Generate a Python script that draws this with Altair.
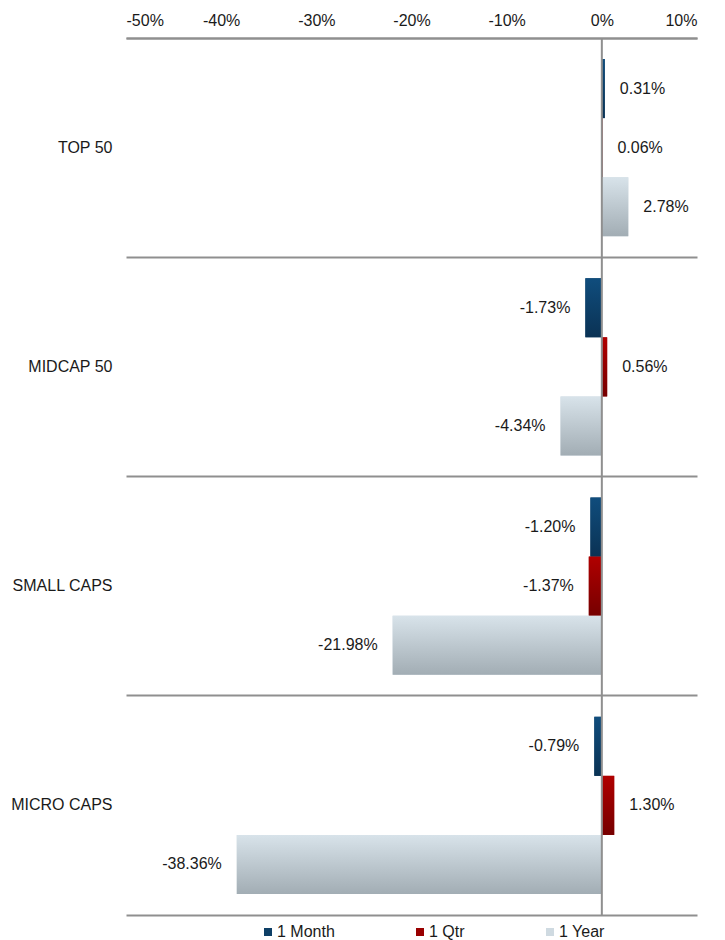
import altair as alt
import pandas as pd

categories = ["TOP 50", "MIDCAP 50", "SMALL CAPS", "MICRO CAPS"]
series = ["1 Month", "1 Qtr", "1 Year"]
month_vals = [0.31, -1.73, -1.20, -0.79]
qtr_vals = [0.06, 0.56, -1.37, 1.30]
year_vals = [2.78, -4.34, -21.98, -38.36]
x_ticks = [-50, -40, -30, -20, -10, 0, 10]

legend_colors = ["#0e3f66", "#990000", "#cfdae1"]
gradients = {
    "1 Month": [("#104d7d", 0), ("#0a3254", 1)],
    "1 Qtr": [("#b00000", 0), ("#760000", 1)],
    "1 Year": [("#d8e3ea", 0), ("#a2adb4", 1)],
}

rows = []
for s, vals in zip(series, [month_vals, qtr_vals, year_vals]):
    for c, v in zip(categories, vals):
        rows.append({"category": c, "series": s, "value": v, "label": f"{v:.2f}%"})
df = pd.DataFrame(rows)

FONT = "Liberation Sans"
GRID = "#8f8f8f"
FS = 16

xscale = alt.Scale(domain=[-50, 10], nice=False, zero=False)
yscale = alt.Scale(paddingInner=0, paddingOuter=0)
yoff_scale = alt.Scale(paddingInner=0, paddingOuter=0.356)

top_axis = alt.Axis(
    orient="top", values=x_ticks, labelExpr="datum.value + '%'", ticks=False,
    grid=False, domainColor=GRID, domainWidth=2, labelFontSize=FS, labelFont=FONT,
    labelColor="#1a1a1a", labelPadding=10, title=None,
)
bottom_axis = alt.Axis(
    orient="bottom", labels=False, ticks=False, grid=False, domainColor=GRID,
    domainWidth=2, title=None,
)
y_axis = alt.Axis(
    title=None, ticks=False, domain=False, grid=True, gridColor=GRID, gridWidth=2,
    bandPosition=0, labelFontSize=FS, labelFont=FONT, labelColor="#1a1a1a",
    labelPadding=14,
)

y_enc = alt.Y("category:N", sort=categories, scale=yscale, axis=y_axis)
yoff_enc = alt.YOffset("series:N", sort=series, scale=yoff_scale)
x_plain = alt.X("value:Q", scale=xscale, axis=None)

base = alt.Chart(df)

zero = alt.Chart(pd.DataFrame({"z": [0]})).mark_rule(color=GRID, strokeWidth=2).encode(
    x=alt.X("z:Q", scale=xscale, axis=bottom_axis)
)

legend_bars = base.mark_bar().encode(
    x=alt.X("value:Q", scale=xscale, axis=top_axis),
    y=y_enc,
    yOffset=yoff_enc,
    fill=alt.Fill(
        "series:N", sort=series,
        scale=alt.Scale(domain=series, range=legend_colors),
        legend=alt.Legend(
            title=None, orient="none", direction="horizontal", legendX=134, legendY=886,
            symbolType="square", symbolSize=64, symbolStrokeWidth=0, labelFontSize=FS,
            labelFont=FONT, labelColor="#1a1a1a", labelOffset=1, columnPadding=77,
            padding=0,
        ),
    ),
)

grad_layers = []
for s in series:
    g = alt.LinearGradient(
        gradient="linear", x1=0, x2=0, y1=0, y2=1,
        stops=[alt.GradientStop(color=c, offset=o) for c, o in gradients[s]],
    )
    grad_layers.append(
        base.transform_filter(alt.datum.series == s).mark_bar(fill=g).encode(
            x=x_plain, y=y_enc, yOffset=yoff_enc,
        )
    )

text_pos = base.transform_filter(alt.datum.value >= 0).mark_text(
    align="left", dx=15, fontSize=FS, font=FONT, color="#1a1a1a"
).encode(x=x_plain, y=y_enc, yOffset=yoff_enc, text="label:N")
text_neg = base.transform_filter(alt.datum.value < 0).mark_text(
    align="right", dx=-15, fontSize=FS, font=FONT, color="#1a1a1a"
).encode(x=x_plain, y=y_enc, yOffset=yoff_enc, text="label:N")

chart = alt.layer(
    legend_bars, *grad_layers, zero, text_pos, text_neg
).resolve_axis(x="independent").properties(
    width=571, height=877, autosize="none",
    padding={"left": 126, "top": 38, "right": 28, "bottom": 25},
).configure(background="white").configure_view(stroke=None)

chart.save("out.html", embed_options={"renderer": "svg", "actions": False})
